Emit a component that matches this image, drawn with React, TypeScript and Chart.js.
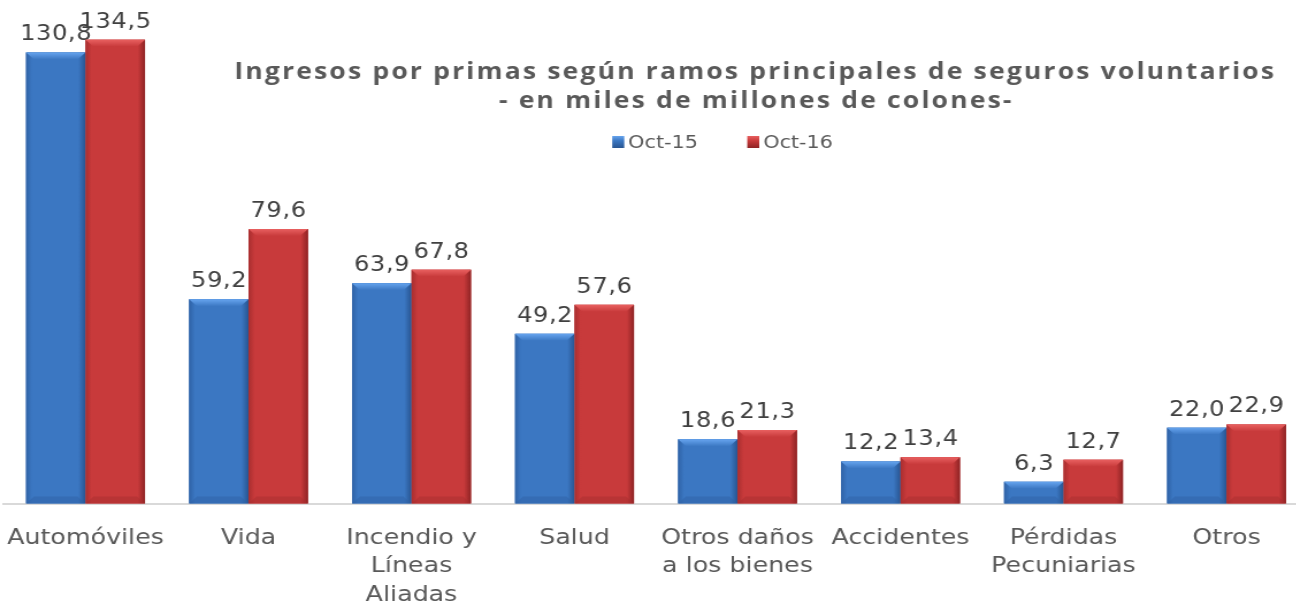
import React, { useEffect, useRef } from "react";
import { Chart, registerables } from "chart.js";

Chart.register(...registerables);

const categories: (string | string[])[] = [
  "Automóviles",
  "Vida",
  ["Incendio y", "Líneas", "Aliadas"],
  "Salud",
  ["Otros daños", "a los bienes"],
  "Accidentes",
  ["Pérdidas", "Pecuniarias"],
  "Otros",
];
const oct15: number[] = [130.8, 59.2, 63.9, 49.2, 18.6, 12.2, 6.3, 22.0];
const oct16: number[] = [134.5, 79.6, 67.8, 57.6, 21.3, 13.4, 12.7, 22.9];
const seriesLabels: string[] = ["Oct-15", "Oct-16"];
const titleLines: string[] = [
  "Ingresos por primas según ramos principales de seguros voluntarios",
  "- en miles de millones de colones-",
];

// horizontal stretch of the whole picture (the reference is widened)
const SX = 1.15;
const CSS_W = 1308;
const CSS_H = 630;
const W = Math.round(CSS_W / SX);

const BLUE = { main: "#3b77c2", light: "#66a4ee", dark: "#285591", edge: "#2f62a6" };
const RED = { main: "#c83a3b", light: "#e86060", dark: "#8e2324", edge: "#a82e2f" };
const TEXT = "#595959";

const decorPlugin = {
  id: "decor",
  afterDatasetsDraw(chart: any) {
    const ctx = chart.ctx;
    ctx.save();
    chart.data.datasets.forEach((ds: any, di: number) => {
      const pal = di === 0 ? BLUE : RED;
      const meta = chart.getDatasetMeta(di);
      meta.data.forEach((bar: any, i: number) => {
        const w = bar.width;
        const left = bar.x - w / 2;
        const right = bar.x + w / 2;
        const top = bar.y;
        const base = bar.base;
        const h = base - top;
        const g = ctx.createLinearGradient(left, 0, right, 0);
        g.addColorStop(0, pal.edge);
        g.addColorStop(0.1, pal.main);
        g.addColorStop(0.88, pal.main);
        g.addColorStop(1, pal.dark);
        ctx.fillStyle = g;
        ctx.fillRect(left, top, w, h);
        const b = Math.min(7, h / 2);
        ctx.beginPath();
        ctx.moveTo(left, top);
        ctx.lineTo(right, top);
        ctx.lineTo(right - b, top + b);
        ctx.lineTo(left + b, top + b);
        ctx.closePath();
        const gb = ctx.createLinearGradient(0, top, 0, top + b);
        gb.addColorStop(0, pal.light);
        gb.addColorStop(1, pal.main);
        ctx.fillStyle = gb;
        ctx.fill();
        ctx.beginPath();
        ctx.moveTo(left, base);
        ctx.lineTo(right, base);
        ctx.lineTo(right - b, base - b);
        ctx.lineTo(left + b, base - b);
        ctx.closePath();
        ctx.fillStyle = pal.edge;
        ctx.globalAlpha = 0.5;
        ctx.fill();
        ctx.globalAlpha = 1;
        const v: number = ds.data[i];
        ctx.fillStyle = "#404040";
        ctx.font = "21px 'DejaVu Sans'";
        ctx.letterSpacing = "0.5px";
        ctx.textAlign = "center";
        ctx.textBaseline = "bottom";
        ctx.fillText(v.toFixed(1).replace(".", ","), bar.x + 0.25, top - 7);
      });
    });
    ctx.restore();
  },
  afterDraw(chart: any) {
    const ctx = chart.ctx;
    ctx.save();
    ctx.fillStyle = TEXT;
    ctx.textAlign = "center";
    ctx.textBaseline = "middle";
    ctx.font = "bold 23px 'Open Sans'";
    ctx.letterSpacing = "1.9px";
    ctx.fillText(titleLines[0], 755 / SX, 72);
    ctx.fillText(titleLines[1], 756 / SX, 101);
    ctx.font = "18px 'DejaVu Sans'";
    ctx.letterSpacing = "0px";
    ctx.textAlign = "left";
    const items = [
      { x: 612 / SX, label: chart.data.datasets[0].label, pal: BLUE },
      { x: 747 / SX, label: chart.data.datasets[1].label, pal: RED },
    ];
    const sq = 12 / SX;
    items.forEach((it) => {
      const g = ctx.createLinearGradient(0, 136, 0, 148);
      g.addColorStop(0, it.pal.light);
      g.addColorStop(0.4, it.pal.main);
      g.addColorStop(1, it.pal.dark);
      ctx.fillStyle = g;
      ctx.fillRect(it.x, 136, sq, 12);
      ctx.fillStyle = TEXT;
      ctx.fillText(it.label, it.x + 16 / SX, 143);
    });
    ctx.restore();
  },
};

export default function App() {
  const ref = useRef<HTMLCanvasElement | null>(null);
  useEffect(() => {
    if (!ref.current) return;
    const chart = new Chart(ref.current, {
      type: "bar",
      data: {
        labels: categories,
        datasets: [
          {
            label: seriesLabels[0],
            data: oct15,
            backgroundColor: BLUE.main,
            borderWidth: 0,
            categoryPercentage: 0.73,
            barPercentage: 1.0,
          },
          {
            label: seriesLabels[1],
            data: oct16,
            backgroundColor: RED.main,
            borderWidth: 0,
            categoryPercentage: 0.73,
            barPercentage: 1.0,
          },
        ],
      },
      options: {
        animation: false,
        responsive: false,
        maintainAspectRatio: false,
        devicePixelRatio: 1,
        layout: { padding: { left: 4 / SX, right: 0, top: 0, bottom: 0 } },
        plugins: {
          legend: { display: false },
          title: { display: false },
          tooltip: { enabled: false },
        },
        scales: {
          x: {
            grid: { display: false, drawTicks: false },
            border: { display: true, color: "#d9d9d9", width: 2 },
            ticks: {
              color: TEXT,
              font: { family: "'DejaVu Sans'", size: 22, lineHeight: 1.28 },
              padding: 21,
              maxRotation: 0,
              autoSkip: false,
            },
            afterFit(scale: any) {
              scale.paddingLeft = 0;
              scale.paddingRight = 0;
            },
          },
          y: {
            display: false,
            min: 0,
            max: 146,
          },
        },
      },
      plugins: [decorPlugin],
    });
    return () => chart.destroy();
  }, []);
  return (
    <div
      style={{
        position: "fixed",
        left: 0,
        top: 0,
        width: 1296,
        height: 603,
        overflow: "hidden",
        background: "#ffffff",
      }}
    >
      <canvas
        ref={ref}
        width={W}
        height={CSS_H}
        style={{ display: "block", width: CSS_W + "px", height: CSS_H + "px" }}
      />
    </div>
  );
}
